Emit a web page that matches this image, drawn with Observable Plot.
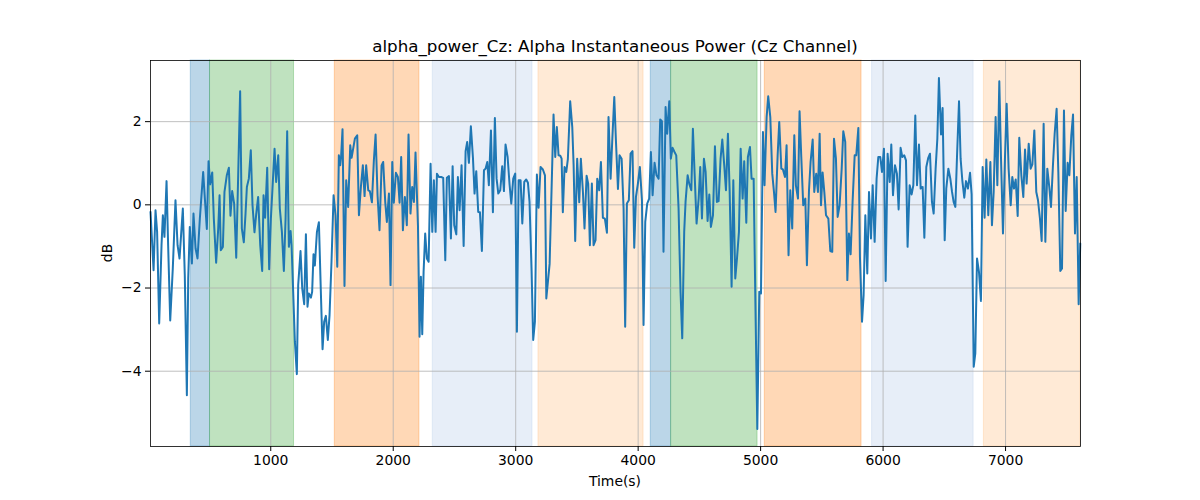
<!DOCTYPE html>
<html>
<head>
<meta charset="utf-8">
<script src="https://cdn.jsdelivr.net/npm/d3@7"></script>
<script src="https://cdn.jsdelivr.net/npm/@observablehq/plot@0.6"></script>
<style>
  html, body { margin: 0; padding: 0; background: white; }
  #chart { width: 1200px; height: 500px; }
</style>
</head>
<body>
<div id="chart"></div>
<script>
const titleText = "alpha_power_Cz: Alpha Instantaneous Power (Cz Channel)";
const xLabel = "Time(s)";
const yLabel = "dB";
const xTicks = [1000, 2000, 3000, 4000, 5000, 6000, 7000];
const yTicks = [-4, -2, 0, 2];
const xDomain = [18, 7612];
const yDomain = [-5.81, 3.47];

// shaded intervals
const spanStart = [347, 504, 1523, 2323, 3186, 4103, 4269, 5034, 5910, 6823];
const spanEnd   = [504, 1190, 2214, 3137, 4044, 4269, 4975, 5824, 6739, 7612];
const spanKind  = ["A", "B", "C", "D", "E", "A", "B", "C", "D", "E"];

// signal
const times = [
18,43,59,72,89,108,119,132,149,162,179,200,222,239,255,282,298,315,326,339,356,369,386,402,421,448,462,478,492,505,522,535,554,571,582,592,609,622,641,658,671,685,701,718,734,750,764,780,794,805,821,837,851,867,881,897,914,930,941,954,971,987,1001,1014,1031,1044,1061,1074,1091,1107,
1121,1134,1148,1162,1170,1183,1197,1213,1224,1243,1257,1273,1287,1300,1311,1328,1338,1349,1360,1377,1393,1409,1423,1436,1450,1466,1480,1496,1513,1529,1543,1556,1567,1575,1586,1602,1616,1632,1649,1660,1673,1687,1706,1720,1736,1752,1766,1779,1796,1809,1826,1842,1856,1872,1888,1905,1918,1935,1948,1965,1978,1992,2005,2022,2038,2052,2065,2079,2095,2111,2125,2141,2155,2169,2182,
2202,2215,2226,2237,2248,2261,2275,2289,2305,2319,2332,2346,2357,2373,2392,2408,2425,2438,2455,2471,2485,2498,2515,2528,2542,2558,2575,2591,2604,2618,2634,2651,2664,2678,2694,2708,2724,2741,2754,2768,2781,2798,2814,2830,2844,2858,2874,2890,2904,2917,2934,2950,2964,2980,2996,3010,3024,3040,3054,3070,3086,3100,3113,3130,3143,3157,3173,3187,3203,3222,3239,3250,3277,
3309,3323,3336,3350,3364,3375,3385,3399,3413,3426,3445,3462,3473,3486,3502,3519,3532,3549,3562,3579,3592,3606,3622,3636,3652,3666,3682,3696,3712,3728,3745,3758,3775,3788,3805,3818,3835,3848,3865,3881,3894,3908,3924,3938,3954,3968,3982,3998,4014,4031,4044,4058,4074,4090,4104,4118,4134,4150,4167,4180,4194,4207,4224,4237,4254,4267,4281,4297,4311,4330,4346,4360,4376,4387,
4404,4417,4434,4447,4461,4477,4494,4507,4521,4537,4551,4567,4581,4594,4611,4627,4643,4657,4673,4687,4703,4717,4733,4747,4763,4777,4793,4807,4823,4837,4853,4866,4883,4896,4913,4926,4943,4956,4973,4989,5003,5019,5032,5049,5062,5079,5095,5109,5122,5139,5152,5169,5182,5199,5212,5228,5242,5258,5275,5288,5305,5318,5332,5348,5365,5378,5395,5408,5425,5438,5454,5468,5482,
5493,5506,5520,5534,5553,5569,5585,5599,5615,5629,5645,5662,5675,5691,5708,5721,5735,5751,5768,5781,5798,5811,5828,5841,5855,5871,5885,5901,5915,5931,5947,5961,5977,5991,6007,6021,6037,6054,6067,6081,6097,6113,6127,6143,6157,6173,6187,6200,6217,6233,6247,6263,6277,6293,6307,6323,6337,6353,6369,6383,6399,6413,6429,6443,6456,6473,6486,6503,6516,6533,6549,6563,
6576,6590,6603,6620,6633,6647,6663,6677,6693,6710,6723,6740,6753,6767,6783,6799,6813,6829,6843,6859,6876,6889,6903,6919,6933,6949,6963,6979,6995,7009,7025,7042,7055,7069,7083,7099,7112,7129,7145,7159,7172,7189,7205,7219,7235,7251,7265,7281,7295,7311,7325,7341,7357,7371,7387,7401,7417,7431,7447,7461,7477,7491,7507,7521,7537,7551,7567,7581,7597,7610
];
const values = [
-0.17,-1.57,-0.13,-0.65,-2.85,-0.97,-0.25,-0.77,0.57,-0.97,-2.78,-1.53,0.11,-0.97,-1.29,-0.09,-1.69,-4.58,-1.77,-0.53,-1.41,-0.21,-1.05,-1.29,-0.33,0.79,0.15,-0.58,1.05,0.49,0.78,-0.33,-1.39,-0.57,0.23,-1.09,-1.01,0.31,0.71,0.89,-0.26,0.33,0.03,-1.27,0.71,2.73,-0.57,-0.90,-0.21,0.43,0.63,1.31,-0.01,-0.66,-0.23,0.19,-0.97,-1.59,0.23,-0.31,0.89,-1.55,-0.33,0.39,1.35,0.55,1.19,-0.09,-0.65,-1.59,
-0.33,1.77,-1.01,-0.63,-0.97,-2.09,-3.29,-4.07,-1.93,-1.11,-2.01,-2.39,-0.71,-2.45,-2.13,-2.23,-2.09,-1.19,-1.46,-0.65,-0.42,-2.09,-3.47,-2.81,-2.67,-3.25,-2.65,-1.37,0.23,-0.25,-1.49,1.19,0.95,1.19,1.82,-1.95,0.59,-0.05,1.43,1.13,1.35,1.59,1.67,-0.25,0.43,0.95,0.21,0.95,0.35,0.33,0.06,1.07,1.69,0.23,-0.61,0.95,1.03,0.06,-0.41,0.27,-1.93,1.03,0.05,0.77,0.67,0.05,1.15,-0.61,0.19,-0.49,1.69,-0.21,0.43,0.07,1.26,
-0.49,-3.17,-1.73,-3.11,-1.61,-0.69,-1.29,-1.37,0.99,-0.65,0.59,-0.65,0.75,0.67,0.67,0.65,-1.33,0.65,0.69,-0.81,0.93,-0.49,-0.71,0.67,-0.13,0.95,-0.99,1.29,1.51,1.01,1.89,1.13,0.27,0.81,-0.17,-0.18,-1.11,0.83,0.87,1.03,0.47,1.79,-0.18,2.09,0.63,0.27,0.35,0.93,0.33,1.45,1.15,0.49,0.03,0.63,0.75,-3.05,0.59,0.59,-0.45,0.55,0.61,0.53,0.07,-1.61,-3.25,-2.81,0.73,-0.07,0.91,0.85,0.71,-2.25,-1.42,
2.17,1.15,1.87,1.19,1.18,1.11,-0.18,0.91,0.79,1.10,2.49,1.87,0.95,-0.87,1.11,0.06,1.11,0.31,-0.57,0.70,0.51,-0.97,0.51,-0.97,-0.85,0.63,0.35,1.03,-0.31,-0.33,-0.67,2.11,0.63,1.51,2.59,1.58,0.38,1.19,1.11,-0.09,-2.93,0.03,0.11,1.23,1.29,-1.03,0.19,0.51,0.91,0.11,-2.89,-0.41,0.03,0.15,1.27,0.23,1.01,0.71,0.63,2.05,2.01,-1.13,2.35,1.71,2.49,1.11,1.37,1.27,1.19,-0.09,-2.09,-3.21,-0.65,0.07,
0.71,0.51,0.35,1.83,0.75,-0.45,0.15,0.91,-0.33,1.11,0.79,-0.39,0.25,-0.53,-0.25,1.41,0.07,0.09,1.11,1.57,0.95,0.35,1.71,0.35,-1.97,0.59,-1.77,-1.29,-0.65,1.35,0.15,1.05,-0.43,1.15,1.39,0.63,0.63,-2.09,-5.39,-2.09,-2.13,1.75,0.47,2.11,2.61,2.11,0.75,0.31,-0.17,1.19,1.99,0.87,0.85,0.67,1.43,-1.21,0.35,-0.57,1.67,0.47,0.15,2.25,1.15,-0.01,0.15,-1.45,0.35,1.03,1.57,0.31,0.75,0.31,1.71,
-0.01,0.78,0.31,-0.25,-0.33,-1.11,-1.13,1.59,1.11,-0.29,-0.01,0.87,1.77,1.51,-1.81,-0.69,-1.19,0.07,1.19,1.19,1.85,-1.25,-2.81,-2.17,-0.25,-1.65,0.31,-0.81,0.47,-0.89,0.63,1.15,1.15,0.79,1.35,-1.83,1.23,0.55,1.45,0.23,0.95,0.75,-0.11,1.37,1.15,1.19,1.07,-1.01,0.47,0.25,0.47,2.15,0.47,1.45,0.39,0.43,-0.79,0.91,1.13,1.23,0.07,-0.21,0.87,1.59,3.05,1.69,2.33,-0.85,0.39,0.87,0.63,0.31,
0.07,-0.05,1.11,2.49,1.11,0.59,0.17,0.57,0.39,0.77,0.25,-3.89,-3.57,-1.29,-1.61,-2.31,0.91,-0.31,1.09,-0.25,1.03,-0.49,0.31,2.11,0.47,2.97,1.11,-0.69,1.11,2.43,0.87,-0.01,0.67,0.39,0.61,-0.27,1.61,0.71,0.19,1.33,0.51,1.47,0.87,0.97,1.79,0.31,0.11,-0.33,-0.87,1.95,-0.89,0.87,0.43,-0.05,0.95,1.71,2.31,0.79,-1.59,-1.53,2.27,-0.15,1.01,0.71,1.67,2.17,-0.69,0.67,-2.39,-0.93
];

const series = times.map((t, i) => ({t, v: values[i]}));
const spans = spanStart.map((s, i) => ({start: s, end: spanEnd[i], kind: spanKind[i]}));
const kindColor = {A: "#1f77b4", B: "#2ca02c", C: "#ff7f0e", D: "#aec7e8", E: "#ffbb78"};

const svg = Plot.plot({
  width: 1200,
  height: 500,
  marginLeft: 150,
  marginRight: 120,
  marginTop: 60,
  marginBottom: 54,
  style: {fontFamily: "DejaVu Sans, sans-serif", fontSize: "13.9px", color: "black", background: "white"},
  x: {domain: xDomain, label: null},
  y: {domain: yDomain, label: null},
  marks: [
    Plot.rect(spans, {x1: "start", x2: "end", fill: d => kindColor[d.kind], fillOpacity: 0.3,
      stroke: d => kindColor[d.kind], strokeOpacity: 0.3, strokeWidth: 1}),
    Plot.gridX(xTicks, {stroke: "#b0b0b0", strokeOpacity: 1, strokeWidth: 0.8}),
    Plot.gridY(yTicks, {stroke: "#b0b0b0", strokeOpacity: 1, strokeWidth: 0.8}),
    Plot.line(series, {x: "t", y: "v", stroke: "#1f77b4", strokeWidth: 2, strokeLinejoin: "round"}),
    Plot.frame({stroke: "black", strokeWidth: 0.8}),
    Plot.axisX(xTicks, {tickSize: 5, tickPadding: 4, tickFormat: d => String(d), label: null}),
    Plot.axisY(yTicks, {tickSize: 5, tickPadding: 4, label: null})
  ]
});

const s = d3.select(svg);
s.append("text").attr("x", 615).attr("y", 52).attr("text-anchor", "middle")
  .style("font-size", "16.7px").style("font-family", "DejaVu Sans, sans-serif").attr("fill", "black")
  .text(titleText);
s.append("text").attr("x", 615).attr("y", 486).attr("text-anchor", "middle")
  .style("font-size", "13.9px").style("font-family", "DejaVu Sans, sans-serif").attr("fill", "black")
  .text(xLabel);
s.append("text").attr("transform", "translate(112,253) rotate(-90)").attr("text-anchor", "middle")
  .style("font-size", "13.9px").style("font-family", "DejaVu Sans, sans-serif").attr("fill", "black")
  .text(yLabel);

document.getElementById("chart").appendChild(svg);
</script>
</body>
</html>
